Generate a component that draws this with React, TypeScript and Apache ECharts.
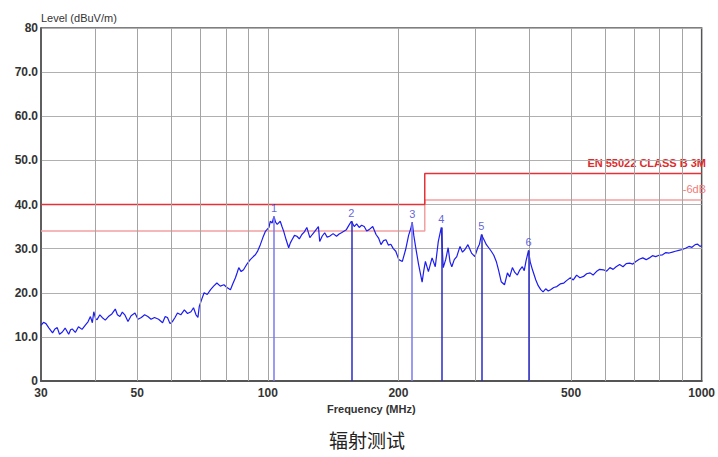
import React, { useEffect, useRef } from "react";
import * as echarts from "echarts";

const freqMHz = [
  30, 30.4, 30.8, 31.3, 31.9, 32.3, 32.7, 33.1, 33.6, 34.1, 34.75, 35.1, 35.4, 36.0, 36.6, 37.3, 38.0, 38.5, 39.0, 39.4,
  39.7, 40.1, 40.4, 41.0, 41.5, 42.2, 42.9, 43.7, 44.5, 45.0, 45.6, 46.2, 46.8, 47.6, 48.4, 49.4, 50.2, 51.1, 52.0, 52.9,
  53.8, 54.8, 56.0, 57.2, 58.0, 58.7, 59.5, 60.3, 61.1, 61.9, 63.0, 64.2, 65.3, 66.5, 67.4, 68.3, 69.0, 69.5, 70.4, 71.3,
  72.5, 73.8, 75.0, 76.3, 77.7, 79.2, 80.5, 82.0, 83.0, 84.2, 85.0, 85.7, 86.8, 87.9, 89.5, 91.1, 92.6, 93.6, 94.8, 96.1,
  97.4, 98.7, 100.6, 101.3, 102.3, 103.3, 104.2, 105.1, 106.8, 107.8, 108.8, 110.2, 111.7, 112.7, 113.7, 115.2, 116.7, 118.2, 119.8, 121.4,
  123.0, 125.0, 126.6, 128.3, 130.8, 131.7, 133.4, 135.2, 137.0, 138.8, 141.4, 144.0, 146.0, 147.8, 151.7, 153.6, 155.8, 158.2, 160.2, 162.4,
  164.5, 166.8, 169.0, 171.2, 174.5, 177.6, 180.0, 182.3, 184.8, 187.2, 189.6, 192.1, 194.6, 197.2, 200.4, 204.2, 207.8, 211.1, 213.5, 215.2,
  217.0, 219.0, 222.5, 226.8, 228.8, 230.8, 234.5, 239.1, 243.2, 247.1, 251.1, 253.7, 257.0, 260.4, 263.0, 265.5, 269.0, 272.6, 277.3, 281.0,
  284.7, 289.2, 294.8, 300.0, 304.7, 307.5, 310.7, 315.0, 319.0, 323.0, 327.4, 331.8, 336.2, 340.5, 345.1, 351.2, 356.7, 361.0, 366.2, 371.0,
  376.0, 381.0, 386.0, 390.0, 393.5, 398.9, 402.5, 407.4, 414.7, 420.0, 425.7, 431.0, 437.0, 443.0, 448.6, 456.0, 463.7, 472.0, 481.1, 489.0,
  498.2, 506.0, 515.0, 524.0, 534.2, 543.0, 553.3, 562.0, 571.9, 582.0, 593.3, 604.0, 614.5, 625.0, 635.1, 647.0, 658.9, 670.0, 682.4, 694.0,
  705.4, 718.0, 731.7, 745.0, 757.8, 770.0, 783.3, 798.0, 812.6, 827.0, 841.7, 856.0, 869.9, 886.0, 902.5, 918.0, 934.7, 950.0, 966.2, 979.0,
  991.8, 1000,
];
const levelDb = [
  12.6, 13.3, 13.0, 12.0, 10.9, 11.8, 12.1, 10.6, 11.1, 12.0, 10.6, 11.6, 11.8, 11.0, 12.3, 11.7, 12.7, 13.4, 14.6, 13.2,
  15.7, 14.1, 13.9, 15.0, 14.4, 13.8, 14.6, 15.2, 16.3, 15.0, 14.6, 15.6, 15.0, 13.5, 14.8, 15.4, 14.0, 14.4, 15.0, 14.6,
  14.0, 14.4, 14.0, 13.2, 14.6, 14.4, 13.0, 13.5, 14.4, 15.4, 15.0, 16.1, 15.3, 15.7, 16.6, 15.0, 14.4, 16.9, 18.5, 20.0,
  19.6, 20.7, 21.5, 22.2, 21.5, 21.8, 21.2, 20.7, 22.0, 23.4, 24.6, 25.7, 24.8, 25.2, 26.5, 27.5, 28.2, 28.6, 29.5, 30.9,
  32.5, 33.9, 34.8, 36.2, 35.8, 37.3, 36.0, 35.5, 36.2, 35.0, 33.9, 32.0, 30.2, 31.3, 32.0, 33.0, 32.8, 32.2, 33.2, 33.8,
  34.8, 32.5, 33.2, 33.9, 35.0, 31.6, 32.8, 33.6, 32.6, 32.8, 33.4, 32.8, 33.3, 33.6, 34.3, 35.2, 36.2, 35.0, 35.6, 34.8,
  35.3, 35.0, 34.0, 34.3, 35.0, 33.2, 32.4, 30.9, 31.8, 32.0, 30.8, 31.0, 30.0, 29.4, 27.5, 27.1, 29.8, 33.0, 34.5, 36.0,
  33.0, 30.5, 26.5, 22.4, 25.0, 27.1, 24.8, 27.9, 25.9, 31.6, 34.8, 25.7, 27.5, 30.2, 27.0, 25.9, 27.5, 28.2, 30.5, 29.2,
  29.8, 30.9, 29.0, 28.2, 30.2, 31.0, 33.2, 32.0, 30.9, 30.2, 29.4, 28.5, 27.1, 25.0, 22.5, 21.8, 24.5, 23.6, 25.7, 24.6,
  24.0, 25.2, 25.9, 25.0, 27.1, 29.6, 27.0, 25.2, 22.9, 21.6, 20.7, 20.2, 20.9, 20.4, 20.7, 21.2, 21.4, 22.0, 22.2, 22.8,
  23.4, 22.9, 24.0, 23.4, 23.7, 24.3, 24.5, 24.0, 24.8, 25.3, 25.2, 24.9, 25.7, 25.3, 25.9, 26.4, 25.9, 26.6, 26.7, 26.5,
  27.1, 27.6, 27.9, 27.5, 27.9, 28.4, 28.2, 28.5, 28.6, 29.1, 29.0, 29.2, 29.4, 29.6, 29.8, 30.1, 30.5, 30.3, 30.9, 31.0,
  30.5, 30.7,
];

// Peak markers
const markerNames = ["1", "2", "3", "4", "5", "6"];
const markerFreq = [103.3, 155.8, 215.2, 251.1, 310.7, 398.9];
const markerLevel = [37.3, 36.2, 36.0, 34.8, 33.2, 29.6];

// Limit lines
const limitFreq = [30, 230, 230, 1000];
const limitLevel = [40, 40, 47, 47];
const marginLevel = [34, 34, 41, 41];
const limitName = "EN 55022 CLASS B 3M";
const marginName = "-6dB";

// Axis ticks
const xTickLabels = [30, 50, 100, 200, 500, 1000];
const xGridFreq = [40, 50, 60, 70, 80, 90, 100, 200, 300, 400, 500, 600, 700, 800, 900];
const yMin = 0;
const yMax = 80;
const yStep = 10;

const FONT = "'Liberation Sans', Arial, sans-serif";

export default function App() {
  const ref = useRef<HTMLDivElement>(null);

  useEffect(() => {
    document.body.style.margin = "0";
    if (!ref.current) return;
    const chart = echarts.init(ref.current, null, { renderer: "svg" });

    const lightMarkers = new Set([0, 2]);

    const option = {
      animation: false,
      backgroundColor: "#ffffff",
      grid: {
        left: 41,
        right: 8,
        top: 28,
        bottom: 76,
        show: true,
        borderColor: "#555555",
        borderWidth: 1.5,
        backgroundColor: "#ffffff",
      },
      xAxis: {
        type: "log",
        logBase: 10,
        min: 30,
        max: 1000,
        name: "Frequency (MHz)",
        nameLocation: "middle",
        nameGap: 22,
        nameTextStyle: { color: "#333", fontSize: 11, fontWeight: "bold", fontFamily: FONT },
        axisLine: { show: true, lineStyle: { color: "#555555", width: 2 } },
        axisTick: { show: false },
        splitLine: { show: false },
        minorSplitLine: { show: false },
        axisLabel: {
          customValues: xTickLabels,
          color: "#333",
          fontSize: 12,
          fontWeight: "bold",
          fontFamily: FONT,
          margin: 6,
          formatter: (v: number) => String(Math.round(v)),
        },
      },
      yAxis: {
        type: "value",
        min: yMin,
        max: yMax,
        interval: yStep,
        axisLine: { show: true, lineStyle: { color: "#555555", width: 1.5 } },
        axisTick: { show: false },
        splitLine: { show: true, lineStyle: { color: "#b0b0b0", width: 1 } },
        axisLabel: {
          color: "#333",
          fontSize: 12,
          fontWeight: "bold",
          fontFamily: FONT,
          margin: 3,
          formatter: (v: number) => (v === yMin || v === yMax ? String(v) : v.toFixed(1)),
        },
      },
      series: [
        {
          name: "grid",
          type: "line",
          data: [],
          silent: true,
          z: 1,
          markLine: {
            silent: true,
            symbol: ["none", "none"],
            label: { show: false },
            lineStyle: { color: "#a4a4a4", width: 1, type: "solid" },
            data: xGridFreq.map((f) => ({ xAxis: f })),
          },
        },
        {
          name: marginName,
          type: "line",
          data: limitFreq.map((f, i) => [f, marginLevel[i]]),
          symbol: "none",
          silent: true,
          z: 2,
          lineStyle: { color: "#f2a0a0", width: 1.5 },
        },
        {
          name: limitName,
          type: "line",
          data: limitFreq.map((f, i) => [f, limitLevel[i]]),
          symbol: "none",
          silent: true,
          z: 3,
          lineStyle: { color: "#e53238", width: 1.5 },
        },
        {
          name: "Level",
          type: "line",
          data: freqMHz.map((f, i) => [f, levelDb[i]]),
          symbol: "none",
          z: 4,
          lineStyle: { color: "#1c1cf0", width: 1.2 },
        },
        {
          name: "Markers",
          type: "scatter",
          z: 5,
          symbolSize: 0,
          data: markerFreq.map((f, i) => ({ value: [f, markerLevel[i]], name: markerNames[i] })),
          label: {
            show: true,
            position: "top",
            distance: 3,
            formatter: (p: any) => p.name,
            color: "#3a3acf",
            fontSize: 11,
            fontFamily: FONT,
          },
          markLine: {
            silent: true,
            symbol: ["none", "none"],
            label: { show: false },
            data: markerFreq.map((f, i) => [
              {
                coord: [f, yMin],
                lineStyle: {
                  color: lightMarkers.has(i) ? "#7a7af0" : "#2a2ac8",
                  width: 1.5,
                  type: "solid",
                },
              },
              { coord: [f, markerLevel[i]] },
            ]),
          },
        },
      ],
      graphic: [
        {
          type: "text",
          left: 41,
          top: 12,
          style: { text: "Level (dBuV/m)", fill: "#333", font: `11px ${FONT}` },
        },
        {
          type: "text",
          right: 12,
          top: 157,
          style: { text: limitName, fill: "#e02a2a", font: `bold 11px ${FONT}` },
        },
        {
          type: "text",
          right: 12,
          top: 183,
          style: { text: marginName, fill: "#f07a7a", font: `11px ${FONT}` },
        },
        {
          type: "text",
          left: 329,
          top: 430,
          style: {
            text: "辐射测试",
            fill: "#222",
            font: `19px 'Noto Sans CJK SC', sans-serif`,
          },
        },
      ],
    };

    chart.setOption(option as any);
    return () => chart.dispose();
  }, []);

  return <div ref={ref} style={{ width: 718, height: 457 }} />;
}
